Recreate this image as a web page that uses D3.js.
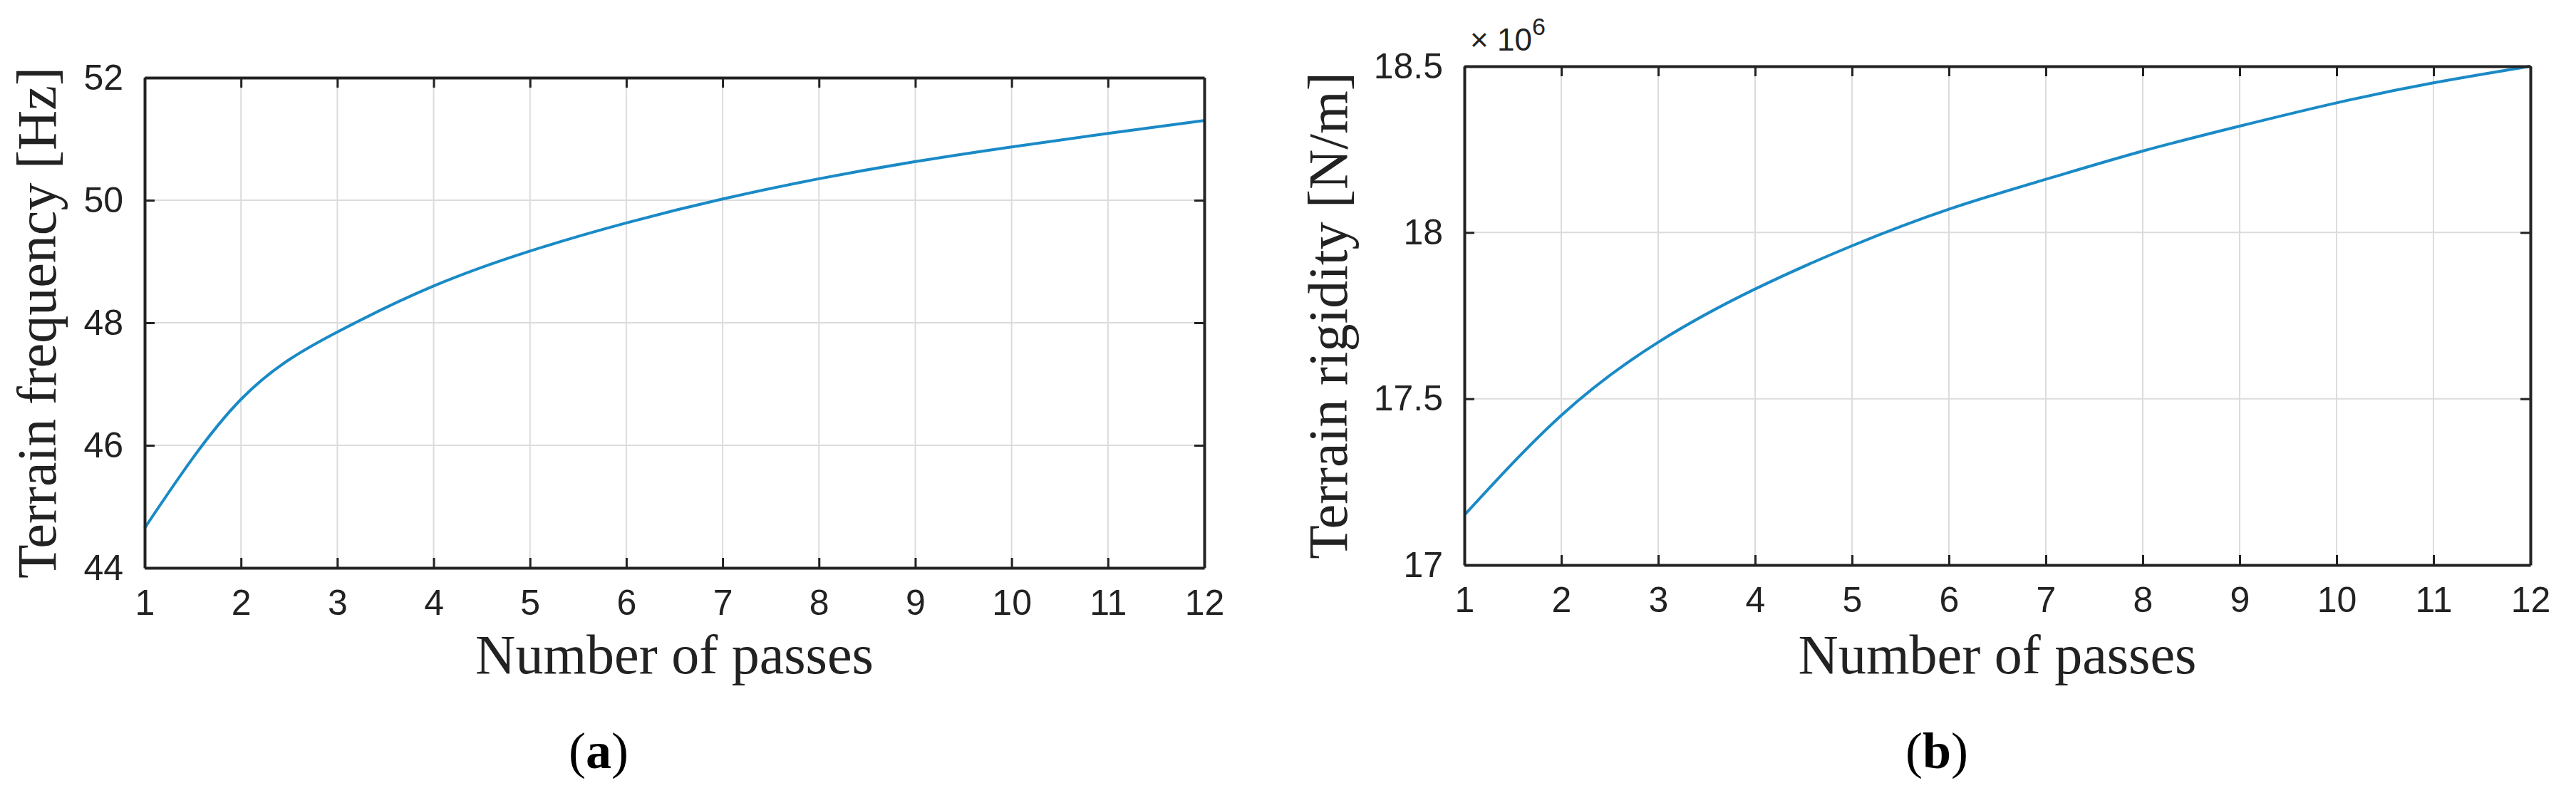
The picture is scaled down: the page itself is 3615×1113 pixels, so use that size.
<!DOCTYPE html>
<html>
<head>
<meta charset="utf-8">
<script src="https://cdn.jsdelivr.net/npm/d3@7"></script>
<style>
  body { margin: 0; background: #fff; }
  svg { display: block; }
</style>
</head>
<body>
<svg id="chart" width="3615" height="1113"></svg>
<script>
// values
const passes = [1, 2, 3, 4, 5, 6, 7, 8, 9, 10, 11, 12]
const frequency = [44.65, 46.75, 47.85, 48.6, 49.17, 49.63, 50.02, 50.35, 50.63, 50.87, 51.09, 51.3]
const rigidity = [17.15, 17.45, 17.67, 17.83, 17.96, 18.07, 18.16, 18.245, 18.32, 18.39, 18.45, 18.5]
const xTicks = [1, 2, 3, 4, 5, 6, 7, 8, 9, 10, 11, 12]
const freqTicks = [44, 46, 48, 50, 52]
const rigTicks = [17, 17.5, 18, 18.5]

const svg = d3.select("#chart")
const tickFont = "'Liberation Sans Narrow', 'Liberation Sans', Arial, sans-serif"
const labelFont = "'Liberation Serif', 'DejaVu Serif', serif"

function panel(opts) {
    const { left, right, top, bottom, yDomain, yTicks, values, yLabel, yLabelX, caption, captionX, exponent } = opts
    const x = d3.scaleLinear().domain([1, 12]).range([left, right])
    const y = d3.scaleLinear().domain(yDomain).range([bottom, top])
    const g = svg.append("g")

    // grid
    g.selectAll(".vg").data(xTicks).join("line")
        .attr("x1", d => x(d)).attr("x2", d => x(d))
        .attr("y1", top).attr("y2", bottom)
        .attr("stroke", "#dcdcdc").attr("stroke-width", 2)
    g.selectAll(".hg").data(yTicks).join("line")
        .attr("x1", left).attr("x2", right)
        .attr("y1", d => y(d)).attr("y2", d => y(d))
        .attr("stroke", "#dcdcdc").attr("stroke-width", 2)

    // curve
    g.append("path")
        .datum(passes.map((p, i) => [p, values[i]]))
        .attr("fill", "none")
        .attr("stroke", "#1a8ac6")
        .attr("stroke-width", 4)
        .attr("d", d3.line().x(d => x(d[0])).y(d => y(d[1])).curve(d3.curveNatural))

    // axes with inward ticks, box style
    const fmt = d3.format("")
    const axes = [
        [d3.axisBottom(x).tickValues(xTicks).tickFormat(fmt), 0, bottom],
        [d3.axisTop(x).tickValues(xTicks).tickFormat(""), 0, top],
        [d3.axisLeft(y).tickValues(yTicks).tickFormat(fmt), left, 0],
        [d3.axisRight(y).tickValues(yTicks).tickFormat(""), right, 0]
    ]
    axes.forEach(([ax, tx, ty]) => {
        const a = g.append("g")
            .attr("transform", `translate(${tx},${ty})`)
            .call(ax.tickSizeInner(-14).tickSizeOuter(0).tickPadding(30))
        a.select(".domain").attr("stroke", "#222").attr("stroke-width", 4)
        a.selectAll(".tick line").attr("stroke", "#222").attr("stroke-width", 3)
        a.selectAll("text")
            .attr("font-family", tickFont)
            .attr("font-size", 50)
            .attr("fill", "#222")
    })

    g.append("text")
        .attr("x", (left + right) / 2).attr("y", 945)
        .attr("text-anchor", "middle")
        .attr("font-family", labelFont).attr("font-size", 78)
        .attr("fill", "#222")
        .text("Number of passes")

    g.append("text")
        .attr("transform", `translate(${yLabelX},${(top + bottom) / 2}) rotate(-90)`)
        .attr("text-anchor", "middle")
        .attr("font-family", labelFont).attr("font-size", 78)
        .attr("fill", "#222")
        .text(yLabel)

    g.append("text")
        .attr("x", captionX).attr("y", 1078)
        .attr("text-anchor", "middle")
        .attr("font-family", labelFont).attr("font-size", 72)
        .attr("fill", "#000")
        .html("(<tspan font-weight='bold'>" + caption + "</tspan>)")

    if (exponent) {
        const t = g.append("text")
            .attr("x", left + 8).attr("y", top - 22)
            .attr("font-family", tickFont).attr("font-size", 44)
            .attr("fill", "#222")
        t.append("tspan").text("× 10")
        t.append("tspan").attr("font-size", 34).attr("dy", -22).text("6")
    }
}

panel({
    left: 203, right: 1690, top: 109, bottom: 797,
    yDomain: [44, 52], yTicks: freqTicks, values: frequency,
    yLabel: "Terrain frequency [Hz]", yLabelX: 78,
    caption: "a", captionX: 840
})

panel({
    left: 2055, right: 3551, top: 93, bottom: 793,
    yDomain: [17, 18.5], yTicks: rigTicks, values: rigidity,
    yLabel: "Terrain rigidity [N/m]", yLabelX: 1890,
    caption: "b", captionX: 2718, exponent: true
})
</script>
</body>
</html>
